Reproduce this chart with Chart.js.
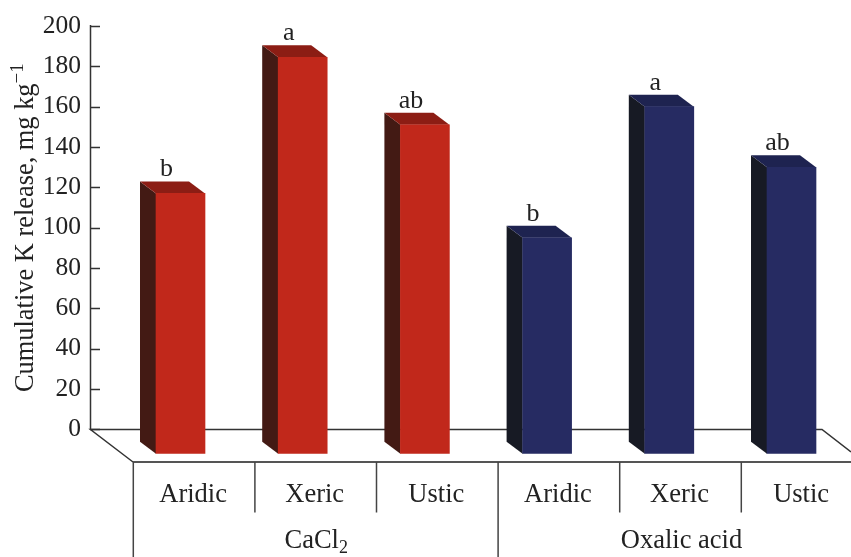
<!DOCTYPE html>
<html><head><meta charset="utf-8">
<script src="https://cdn.jsdelivr.net/npm/chart.js@4"></script>
<style>html,body{margin:0;padding:0;background:#fff}#w{width:851px;height:557px;overflow:hidden}</style>
</head><body><div id="w"><canvas id="c" width="851" height="557"></canvas></div>
<script>
const soils = ["Aridic","Xeric","Ustic"];
const groups = ["CaCl","Oxalic acid"];
const cacl2Values = [129,196.5,163];
const oxalicValues = [107,172,142];
const cacl2Letters = ["b","a","ab"];
const oxalicLetters = ["b","a","ab"];
const tickValues = [0,20,40,60,80,100,120,140,160,180,200];
const yTitle = "Cumulative K release, mg kg";

const F = "'Liberation Serif'";
const INK = "#222";
const DX = 16, DY = 12;
const style = [
  {front:"#c1281b", side:"#431a14", top:"#8c1d14"},
  {front:"#262b62", side:"#171a24", top:"#1e2350"}
];
const toPts = (vals, off) => vals.map((v,i)=>({x:i+off,y:v}));

const deco = {
  id:"deco",
  beforeDatasetsDraw(chart){
    const {ctx,scales:{y}} = chart;
    const y0 = y.getPixelForValue(0), y200 = y.getPixelForValue(200);
    ctx.save();
    // floor
    ctx.strokeStyle="#333"; ctx.lineWidth=1.5;
    ctx.beginPath();
    ctx.moveTo(133,462); ctx.lineTo(90.5,y0); ctx.lineTo(822,y0); ctx.lineTo(851,452);
    ctx.stroke();
    // wall axis and inward ticks
    ctx.beginPath();
    ctx.moveTo(90.5,y200-1); ctx.lineTo(90.5,y0);
    y.ticks.forEach(t=>{const p=Math.round(y.getPixelForValue(t.value))+.5; ctx.moveTo(90,p); ctx.lineTo(100,p);});
    ctx.stroke();
    // 3D sides and tops
    chart.data.datasets.forEach((d,di)=>{
      chart.getDatasetMeta(di).data.forEach(b=>{
        const l=b.x-b.width/2, r=b.x+b.width/2, t=b.y, bs=b.base;
        ctx.fillStyle=style[di].side;
        ctx.beginPath();ctx.moveTo(l,t);ctx.lineTo(l-DX,t-DY);ctx.lineTo(l-DX,bs-DY);ctx.lineTo(l,bs);ctx.closePath();ctx.fill();
        ctx.fillStyle=style[di].top;
        ctx.beginPath();ctx.moveTo(l,t);ctx.lineTo(l-DX,t-DY);ctx.lineTo(r-DX,t-DY);ctx.lineTo(r,t);ctx.closePath();ctx.fill();
      });
    });
    ctx.restore();
  },
  afterDatasetsDraw(chart){
    const {ctx,scales:{xCell}} = chart;
    ctx.save();
    ctx.fillStyle=INK; ctx.textBaseline="alphabetic";
    // significance letters
    ctx.font=`26px ${F}`; ctx.textAlign="center";
    [cacl2Letters,oxalicLetters].forEach((ls,di)=>{
      chart.getDatasetMeta(di).data.forEach((b,i)=>{
        ctx.fillText(ls[i], b.x-14, b.y-DY-5);
      });
    });
    // category table
    ctx.strokeStyle="#555"; ctx.lineWidth=2;
    ctx.beginPath();ctx.moveTo(133,462);ctx.lineTo(851,462);ctx.stroke();
    ctx.lineWidth=1.5;ctx.strokeStyle="#444";
    ctx.beginPath();
    for(let i=0;i<6;i++){
      const p=xCell.getPixelForValue(i-0.5);
      ctx.moveTo(p,462); ctx.lineTo(p,(i%3===0)?557:512.5);
    }
    ctx.stroke();
    ctx.font=`26.5px ${F}`;
    for(let i=0;i<6;i++){
      ctx.fillText(soils[i%3], xCell.getPixelForValue(i)-1, 502);
    }
    // group labels
    const cx0=xCell.getPixelForValue(1), cx1=xCell.getPixelForValue(4);
    ctx.textAlign="left";
    const w=ctx.measureText(groups[0]).width;
    ctx.fillText(groups[0], cx0-(w+10)/2+1, 548);
    ctx.font=`18px ${F}`;
    ctx.fillText("2", cx0-(w+10)/2+1+w, 553);
    ctx.font=`26.5px ${F}`; ctx.textAlign="center";
    ctx.fillText(groups[1], cx1+1, 548);
    // y title
    ctx.save();
    ctx.translate(33,392); ctx.rotate(-Math.PI/2);
    ctx.textAlign="left"; ctx.font=`26.4px ${F}`;
    ctx.fillText(yTitle,0,0);
    const tw=ctx.measureText(yTitle).width;
    ctx.font=`19px ${F}`;
    ctx.fillText("\u22121",tw,-10);
    ctx.restore();
    ctx.restore();
  }
};

new Chart(document.getElementById("c"),{
  type:"bar",
  data:{datasets:[
    {label:"CaCl2",data:toPts(cacl2Values,0),backgroundColor:style[0].front,xAxisID:"x",yAxisID:"yBar",grouped:false,barThickness:49,borderWidth:0},
    {label:"Oxalic acid",data:toPts(oxalicValues,3),backgroundColor:style[1].front,xAxisID:"x",yAxisID:"yBar",grouped:false,barThickness:49,borderWidth:0}
  ]},
  options:{
    responsive:false,animation:false,
    layout:{padding:{left:0,right:0,top:26,bottom:103.3}},
    plugins:{legend:{display:false},tooltip:{enabled:false}},
    scales:{
      x:{type:"linear",display:false,offset:false,min:(91-180.5)/122.2,max:(851-180.5)/122.2},
      xCell:{type:"linear",display:false,offset:false,axis:"x",position:"bottom",min:(91-194.1)/121.6,max:(851-194.1)/121.6},
      yBar:{type:"linear",display:false,min:0,max:212},
      y:{type:"linear",position:"left",min:-12,max:200,
        afterBuildTicks(s){s.ticks=tickValues.map(v=>({value:v}));},
        afterFit(s){s.width=91;},
        border:{display:false},
        grid:{display:false,drawTicks:false},
        ticks:{autoSkip:false,padding:10,color:INK,font:{family:"Liberation Serif",size:25.5}}
      }
    }
  },
  plugins:[deco]
});
</script></body></html>
